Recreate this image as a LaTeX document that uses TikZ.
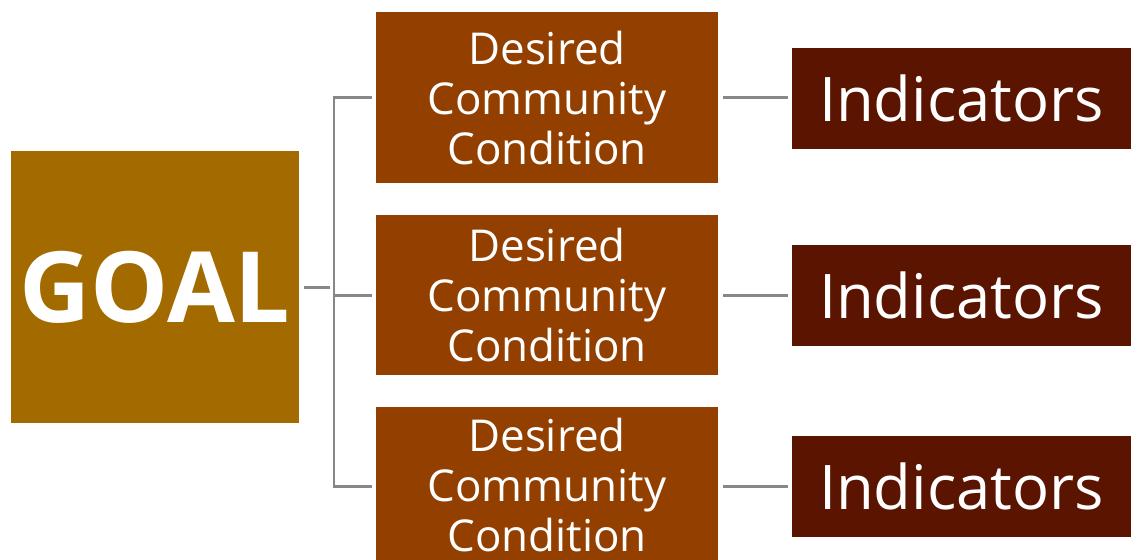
\documentclass[tikz,border=0pt]{standalone}
\usepackage{fontspec}
\setmainfont{Open Sans}
\usetikzlibrary{positioning}

\definecolor{goalfill}{HTML}{A36A00}
\definecolor{dccfill}{HTML}{933F00}
\definecolor{indfill}{HTML}{5A1400}
\definecolor{linkgray}{HTML}{878787}

\tikzset{
  goalbox/.style={fill=goalfill,text=white,inner sep=0pt,minimum width=5.76cm,minimum height=5.44cm,
    font=\fontsize{56}{60}\selectfont\bfseries},
  dccbox/.style={fill=dccfill,text=white,inner sep=0pt,minimum width=6.84cm,minimum height=3.2cm,
    align=center,font=\fontsize{25}{28.3}\selectfont},
  indbox/.style={fill=indfill,text=white,inner sep=0pt,minimum width=6.78cm,minimum height=2.02cm,
    font=\fontsize{35}{36}\selectfont},
  link/.style={draw=linkgray,line width=1.7pt,shorten <=0.1cm,shorten >=0.08cm}
}

\begin{document}
\begin{tikzpicture}[x=0.02cm,y=-0.02cm,node distance=0.62cm]
            \useasboundingbox (0,0) rectangle (1131,559);
            \clip (0,0) rectangle (1131,559);

            \node[goalbox] (goal) at (155,287) {GOAL};

            \node[dccbox] (d2) at (547,295) {Desired\\Community\\Condition};

            \node[dccbox,minimum height=3.42cm] (d1) [above=of d2] {Desired\\Community\\Condition};

            \node[dccbox,minimum height=3.14cm] (d3) [below=of d2] {Desired\\Community\\Condition};

            \node[indbox] (i1) at (961.5,98.5) {Indicators};

            \node[indbox] (i2) at (961.5,295.5) {Indicators};

            \node[indbox] (i3) at (961.5,486.5) {Indicators};

            \coordinate (spine) at (334,287);

            \path[link] (goal.east) edge (spine)
                        (spine |- d1.west) edge[shorten <=-0.85pt,shorten >=-0.85pt] (spine |- i3.west)
                        (spine |- d1.west) edge[shorten <=0pt] (d1.west)
                        (spine |- d2.west) edge[shorten <=0pt] (d2.west)
                        (spine |- i3.west) edge[shorten <=0pt] (d3.west |- i3.west)
                        (d1.east) edge (i1.west |- d1.east)
                        (d2.east) edge (i2.west |- d2.east)
                        (d3.east |- i3.west) edge (i3.west);

        \end{tikzpicture}
\end{document}
